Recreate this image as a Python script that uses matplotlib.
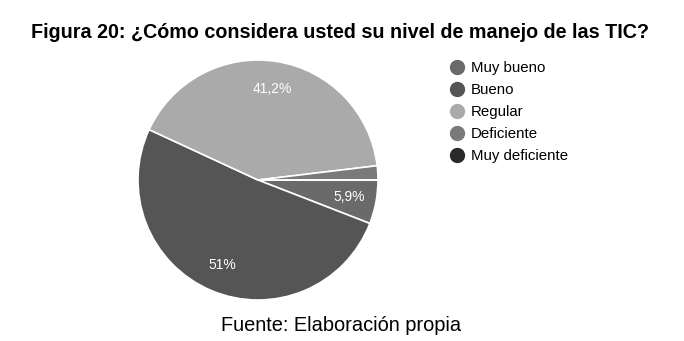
import matplotlib
matplotlib.use("Agg")
import matplotlib.pyplot as plt
from matplotlib.lines import Line2D

plt.rcParams['font.family'] = ['Liberation Sans', 'DejaVu Sans']

categories = ["Muy bueno", "Bueno", "Regular", "Deficiente", "Muy deficiente"]
values = [5.9, 51.0, 41.2, 1.9, 0.0]
labels = ["5,9%", "51%", "41,2%", "", ""]
colors = ["#6a6a6a", "#555555", "#aaaaaa", "#7a7a7a", "#2a2a2a"]

title = "Figura 20: ¿Cómo considera usted su nivel de manejo de las TIC?"
source = "Fuente: Elaboración propia"

fig = plt.figure(figsize=(6.84, 3.41), dpi=100)
W, H = 684, 341
cx, cy, r = 258, 180, 120
ax = fig.add_axes([(cx - r) / W, (H - cy - r) / H, 2 * r / W, 2 * r / H])

vals = [v if v > 0 else 1e-9 for v in values]
wedges, texts, autotexts = ax.pie(
    vals, colors=colors, startangle=0, counterclock=False,
    wedgeprops=dict(edgecolor="white", linewidth=1.2),
    autopct="%1.1f", pctdistance=0.77,
    textprops=dict(color="white", fontsize=10))
for t, lab in zip(autotexts, labels):
    t.set_text(lab)
ax.set_aspect("equal")
ax.set_xlim(-1, 1)
ax.set_ylim(-1, 1)

handles = [Line2D([0], [0], marker="o", linestyle="", markersize=10,
                  markerfacecolor=c, markeredgecolor=c) for c in colors]
fig.legend(handles, categories, loc="upper left",
           bbox_to_anchor=(449 / W, 1 - 61 / H), frameon=False,
           fontsize=10.8, handletextpad=0.35, labelspacing=0.53,
           handlelength=1.1, borderaxespad=0, borderpad=0)

fig.text(0.5 - 2 / W, 1 - 38 / H, title, ha="center", va="baseline",
         fontsize=14.2, fontweight="bold")
fig.text(341 / W, 1 - 331 / H, source, ha="center", va="baseline", fontsize=14.4)

fig.savefig("out.png", dpi=100)
